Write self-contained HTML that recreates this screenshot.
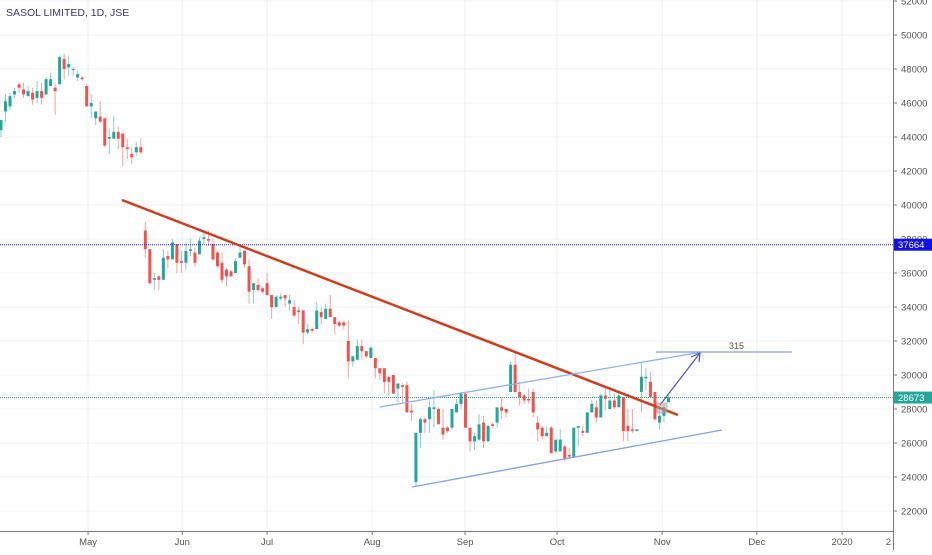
<!DOCTYPE html>
<html><head><meta charset="utf-8"><style>
html,body{margin:0;padding:0;background:#fff;}
body{width:932px;height:550px;overflow:hidden;font-family:"Liberation Sans",sans-serif;}
svg text{font-family:"Liberation Sans",sans-serif;}
</style></head><body>
<svg id="chart" width="932" height="550" viewBox="0 0 932 550" xmlns="http://www.w3.org/2000/svg">
<g id="grid"></g>
<g id="candles"></g>
<g id="drawings"></g>
<g id="axes"></g>
<text x="6" y="16" font-size="10.5" fill="#3b3768">SASOL LIMITED, 1D, JSE</text>
</svg>
<script>
const opens=[44400,45500,45800,46500,47100,46800,46400,46600,46300,46700,46500,47000,46900,47100,48600,48100,48000,47500,47500,47000,45800,45100,45200,45100,43900,43900,44300,44200,43400,43000,43100,43400,
38500,37400,35600,35800,35600,37000,36800,37700,36700,36600,37300,37200,37100,38000,38000,37700,37200,36600,36200,36100,36000,36900,37300,36400,35000,35300,35100,35400,34700,34000,34500,34700,34200,34000,33800,
33800,32500,32700,32700,33700,33300,33900,33400,33100,33100,32000,30800,30900,31700,31400,31000,31000,30400,30400,29900,30000,29200,29400,29400,27900,23700,26600,
27400,27400,28000,28000,26900,26900,26900,27800,28300,28900,26900,26100,26200,27200,26100,27100,27200,28100,28000,29000,30600,29000,28800,28600,29000,27200,26900,26400,26900,25500,25500,25800,25300,25200,26900,26700,26600,27800,28100,27500,28800,28000,28500,28100,28700,27000,26800,26700,29000,29800,29600,29000,27200,27600,28400];
const highs=[45000,46500,46600,46900,47200,47200,47000,46900,47300,47200,47500,47800,47200,48800,48900,48800,48100,47900,47600,47100,46500,45500,46100,45100,44500,45200,44600,44200,43900,43400,43700,43900,
39000,37400,36000,35900,37400,37300,38000,37700,37300,37800,38000,37500,38100,38400,38500,38000,37300,37200,36300,36200,36900,37600,37400,36800,35400,35700,35200,36000,34700,34700,34800,34700,34700,34400,34000,
33800,33000,32800,34300,34000,34200,34700,33400,33200,33200,33200,31100,32100,32100,31400,31700,31000,30400,30400,29900,30000,29500,29500,29600,28300,26600,27500,
27500,28500,29100,28100,28000,27000,28000,28600,29000,29000,26900,26600,27700,27600,27100,27200,28100,28700,28000,30800,31400,29600,28900,29200,29200,27600,27000,27000,27000,26200,26800,25900,25700,26900,27000,27000,27800,28500,28500,28900,29300,29300,28900,29100,28700,28000,28000,26800,30800,30400,30200,29000,28200,28300,28800];
const lows=[44000,44900,45600,46300,46600,46300,46400,45900,46000,45900,46500,47000,45300,47100,47400,47600,47600,47300,47300,45800,45100,44700,44800,43400,43000,43900,43300,42300,42700,42400,42900,43000,
36900,35300,35000,35000,35600,36300,36800,36000,36000,36200,37000,36400,37100,37700,37600,36700,36300,35400,35200,35800,36000,36900,36300,34200,34200,34900,34800,34700,33300,34000,34400,34000,33800,33400,33000,
31800,32400,32500,32700,33000,33300,33400,32400,32800,32700,29800,30500,30900,30900,31000,31000,29800,29700,28900,28800,28900,28400,28400,27800,27300,23500,25700,
26600,26600,26900,27100,26200,26600,26800,27800,28000,26900,25500,25600,26100,25700,26100,26900,26900,27400,27500,29000,29000,28200,28300,28300,27500,26100,26200,26400,25400,25400,25500,24900,25100,25100,25800,26400,26600,27800,27200,27500,27900,28000,28000,28100,26100,26100,26600,26700,27800,29100,28700,27300,26800,27200,28400];
const closes=[45000,46100,46400,46700,46900,46500,46700,46200,46700,46300,47400,47400,46700,48700,48000,48300,48000,47700,47400,45800,46000,45500,44900,43500,44000,44300,43900,43400,43300,42800,43400,43100,
37400,35400,35700,35600,36900,36800,37800,36600,36600,37300,37400,36600,37900,38100,37900,36800,36400,35600,35800,35800,36700,37200,36500,34900,35400,35000,34900,34700,34000,34600,34600,34500,34400,33500,33700,
32500,32700,32600,33800,33400,33900,33400,33000,32900,32900,30800,31100,31700,31400,31100,31600,30400,30100,29600,29600,28900,29500,29300,27800,27800,26600,27400,
27200,28100,28100,27100,26500,26700,28000,28300,28900,26900,26100,26400,27100,26100,27000,27000,28100,27900,27800,30600,29000,28700,28500,28500,27800,26800,26400,26600,25400,26200,26200,25100,25200,26900,27000,26600,27800,28300,27500,28800,28600,28500,28100,28800,26700,26700,26700,26800,29900,29900,28700,27400,27600,28100,28700];
const priceTicks=[52000,50000,48000,46000,44000,42000,40000,38000,36000,34000,32000,30000,28000,26000,24000,22000];
const monthLabels=["May","Jun","Jul","Aug","Sep","Oct","Nov","Dec","2020"];
const monthIndex=[19.3,40.2,59,82.3,102.9,123.3,146.6,167.6,186.5];

const NS="http://www.w3.org/2000/svg";
const PLOT_R=893, PLOT_B=531;
function xOf(i){return 1+i*4.51;}
function yOf(p){return 1+(52000-p)*0.017;}
function mk(tag,attrs,parent){const e=document.createElementNS(NS,tag);for(const k in attrs)e.setAttribute(k,attrs[k]);parent.appendChild(e);return e;}

const grid=document.getElementById('grid');
priceTicks.forEach(p=>{
  const l=mk('line',{x1:0,x2:PLOT_R,y1:yOf(p),y2:yOf(p),stroke:'#eef1f6','stroke-width':1},grid);
  
  
});
monthIndex.forEach(m=>{
  const l=mk('line',{x1:xOf(m),x2:xOf(m),y1:0,y2:PLOT_B,stroke:'#eef1f6','stroke-width':1},grid);
  
  
});

const cg=document.getElementById('candles');
for(let i=0;i<closes.length;i++){
  const up=closes[i]>=opens[i];
  const col=up?'#26a69a':'#ef5350';
  const x=xOf(i);
  const w=mk('line',{x1:x,x2:x,y1:yOf(highs[i]),y2:yOf(lows[i]),stroke:col,'stroke-opacity':0.55,'stroke-width':1},cg);
  
  
  const top=yOf(Math.max(opens[i],closes[i])), bot=yOf(Math.min(opens[i],closes[i]));
  const b=mk('rect',{x:x-1.5,y:top,width:3,height:Math.max(1,bot-top),fill:col},cg);
  
  
}

const dg=document.getElementById('drawings');
function line(a,nm){const e=mk('line',a,dg);return e;}
line({x1:0,x2:PLOT_R,y1:yOf(37664),y2:yOf(37664),stroke:'#2424e8','stroke-width':1,'stroke-dasharray':'1 1'},'resistance-level-line');
line({x1:0,x2:PLOT_R,y1:yOf(28673),y2:yOf(28673),stroke:'#26a69a','stroke-width':1,'stroke-dasharray':'1 1'},'last-price-line');
line({x1:122,y1:200,x2:678,y2:415,stroke:'#d23b1c','stroke-width':2.5},'downtrend-line');
line({x1:380,y1:407,x2:702,y2:352,stroke:'#8fb0f5','stroke-width':1.3},'channel-upper-line');
line({x1:412,y1:487,x2:722,y2:430,stroke:'#7ea2ee','stroke-width':1.3},'channel-lower-line');
line({x1:656,y1:352,x2:792,y2:352,stroke:'#7ea2ee','stroke-width':1.3},'target-line');
line({x1:660,y1:405,x2:700,y2:353,stroke:'#5050c0','stroke-width':1.2},'projection-arrow');
const ah=mk('path',{d:'M700 353 L691 357 M700 353 L699 362',stroke:'#5050c0','stroke-width':1.2,fill:'none'},dg);


const sq=mk('rect',{x:657,y:403,width:10,height:10,fill:'#b0b0b0','fill-opacity':0.5,stroke:'#999','stroke-width':0.5},dg);


const tt=mk('text',{x:729,y:349,'font-size':9,fill:'#555'},dg);tt.textContent='315';



const ax=document.getElementById('axes');
const bg=mk('rect',{x:PLOT_R,y:0,width:932-PLOT_R,height:550,fill:'#fff'},ax);


const ya=mk('line',{x1:PLOT_R+0.5,x2:PLOT_R+0.5,y1:0,y2:550,stroke:'#787b86','stroke-width':1},ax);


const xa=mk('line',{x1:0,x2:PLOT_R,y1:PLOT_B+0.5,y2:PLOT_B+0.5,stroke:'#787b86','stroke-width':1},ax);


priceTicks.forEach(p=>{
  const y=yOf(p);
  const t=mk('line',{x1:PLOT_R,x2:PLOT_R+4,y1:y,y2:y,stroke:'#787b86'},ax);
  
  
  const tx=mk('text',{x:PLOT_R+8,y:y+3.5,'font-size':9.5,fill:'#555'},ax);tx.textContent=String(p);
  
  
});
monthLabels.forEach((m,k)=>{
  const x=xOf(monthIndex[k]);
  const t=mk('line',{x1:x,x2:x,y1:PLOT_B,y2:PLOT_B+4,stroke:'#787b86'},ax);
  
  
  const tx=mk('text',{x:x,y:545,'font-size':9.5,fill:'#555','text-anchor':'middle'},ax);tx.textContent=m;
  
  
});
const t2=mk('text',{x:PLOT_R-2,y:545,'font-size':9.5,fill:'#555','text-anchor':'end'},ax);t2.textContent='2';


function badge(p,col,nm){
  const y=yOf(p);
  const r=mk('rect',{x:PLOT_R+1,y:y-6,width:38,height:12,fill:col},ax);
  
  
  const tx=mk('text',{x:PLOT_R+5,y:y+3.5,'font-size':9.5,fill:'#fff'},ax);tx.textContent=String(p);
  
  
}
badge(37664,'#1010e8','resistance-price-badge');
badge(28673,'#26a69a','last-price-badge');
</script>
</body></html>
